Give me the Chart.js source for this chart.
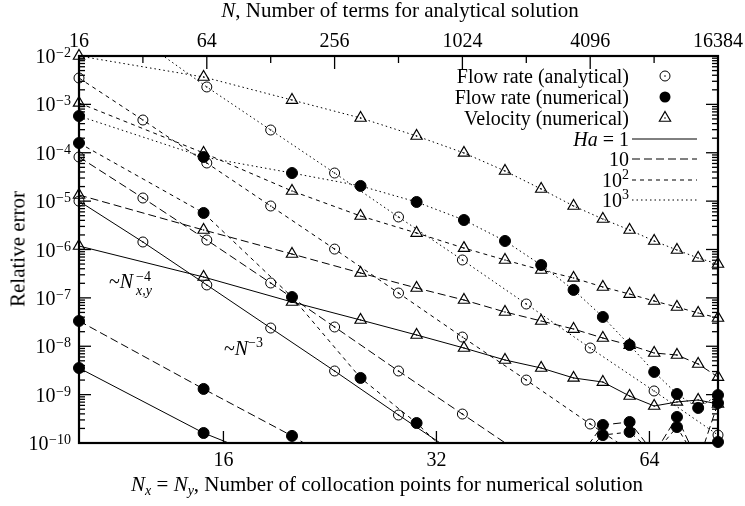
<!DOCTYPE html>
<html>
<head>
<meta charset="utf-8">
<script src="https://cdn.jsdelivr.net/npm/chart.js@4.4.0/dist/chart.umd.min.js"></script>
<style>
  html, body { margin: 0; padding: 0; background: #fff; }
  #wrap { position: relative; width: 745px; height: 506px; color: #000;
          font-family: 'Liberation Serif', 'Times New Roman', serif; }
  #grafica { position: absolute; left: 0; top: 0; }
  .t { position: absolute; white-space: nowrap; font-size: 20px; line-height: 20px; }
  .big { font-size: 21px; line-height: 21px; }
  .small { font-size: 14px; line-height: 14px; }
  .sub { font-size: 14px; line-height: 0; vertical-align: -4px; }
  .sup { font-size: 14px; line-height: 0; vertical-align: 8px; }
  .legend { right: 116px; text-align: right; }
</style>
</head>
<body>
<div id="wrap">
  <canvas id="grafica" width="745" height="506"></canvas>

  <!-- titulos de los ejes -->
  <div class="t big" style="left:400px; top:0px; transform:translateX(-50%);"><i>N</i>, Number of terms for analytical solution</div>
  <div class="t big" style="left:387px; top:474px; transform:translateX(-50%);"><i>N</i><span class="sub"><i>x</i></span> = <i>N</i><span class="sub"><i>y</i></span>, Number of collocation points for numerical solution</div>
  <div class="t big" style="left:18px; top:249px; transform:translate(-50%,-50%) rotate(-90deg);">Relative error</div>

  <!-- leyenda -->
  <div class="t legend" style="top:66px;">Flow rate (analytical)</div>
  <div class="t legend" style="top:87px;">Flow rate (numerical)</div>
  <div class="t legend" style="top:108px;">Velocity (numerical)</div>
  <div class="t legend" style="top:129px;"><i>Ha</i> = 1</div>
  <div class="t legend" style="top:149px;">10</div>
  <div class="t legend" style="top:170px;">10<span class="sup">2</span></div>
  <div class="t legend" style="top:190px;">10<span class="sup">3</span></div>

  <!-- pendientes -->
  <div class="t" style="left:109px; top:271px;">~<i>N</i></div>
  <div class="t small" style="left:136px; top:270px;">&minus;4</div>
  <div class="t small" style="left:136px; top:284px;"><i>x,y</i></div>
  <div class="t" style="left:224px; top:338px;">~<i>N</i></div>
  <div class="t small" style="left:248px; top:336px;">&minus;3</div>
</div>

<script>
const fuente = "'Liberation Serif', 'Times New Roman', serif";

// Eje superior: N, numero de terminos de la solucion analitica
const nTerms = [16, 32, 64, 128, 256, 512, 1024, 2048, 4096, 8192, 16384];
const nTermLabels = [16, 64, 256, 1024, 4096, 16384];

// Eje inferior: Nx = Ny, puntos de colocacion
const nColloc = [10, 15, 20, 25, 30, 35, 40, 45, 50, 55, 60, 65, 70, 75, 80];
const nCollocLabels = [16, 32, 64];

// Eje Y: decadas
const yDecades = [1e-2, 1e-3, 1e-4, 1e-5, 1e-6, 1e-7, 1e-8, 1e-9, 1e-10];

// Flow rate (analytical), contra N
const qAnaHa1    = [1.0e-5, 1.43e-6, 1.85e-7, 2.38e-8, 3.08e-9, 3.79e-10, 4.9e-11, null, null, null, null];
const qAnaHa10   = [8.17e-5, 1.16e-5, 1.57e-6, 2.03e-7, 2.50e-8, 3.08e-9, 3.97e-10, 5.1e-11, null, null, null];
const qAnaHa100  = [3.51e-3, 4.75e-4, 6.14e-5, 7.93e-6, 1.02e-6, 1.26e-7, 1.55e-8, 2.0e-9, 2.47e-10, 3.2e-11, null];
const qAnaHa1000 = [null, 2.0e-2, 2.29e-3, 2.95e-4, 3.81e-5, 4.70e-6, 6.07e-7, 7.47e-8, 9.2e-9, 1.19e-9, 1.46e-10];

// Flow rate (numerical), contra Nx
const qNumHa1    = [3.55e-9, 1.61e-10, 3e-11, null, null, null, null, null, null, null, null, null, null, null, null];
const qNumHa10   = [3.33e-8, 1.31e-9, 1.40e-10, 2e-11, null, null, null, null, 3.5e-11, 2.36e-10, 2.72e-10, 6e-11, 3.45e-10, 4e-11, 6.7e-10];
const qNumHa100  = [1.59e-4, 5.69e-6, 1.04e-7, 2.21e-9, 2.59e-10, 3e-11, null, null, 3.5e-11, 1.46e-10, 1.69e-10, 6e-11, 2.14e-10, 4e-11, 1.05e-10];
const qNumHa1000 = [5.75e-4, 8.17e-5, 3.81e-5, 2.06e-5, 9.6e-6, 4.07e-6, 1.50e-6, 4.78e-7, 1.46e-7, 4.03e-8, 1.06e-8, 2.94e-9, 1.03e-9, 5.3e-10, 9.8e-10];

// Velocity (numerical), contra Nx
const vNumHa1    = [1.18e-6, 2.70e-7, 8.22e-8, 3.49e-8, 1.71e-8, 9.20e-9, 5.20e-9, 3.55e-9, 2.21e-9, 1.82e-9, 9.37e-10, 5.82e-10, 7.05e-10, 7.75e-10, 6.40e-10];
const vNumHa10   = [1.34e-5, 2.53e-6, 8.07e-7, 3.27e-7, 1.60e-7, 9.04e-8, 5.11e-8, 3.33e-8, 2.27e-8, 1.48e-8, 1.06e-8, 7.25e-9, 6.59e-9, 4.30e-9, 2.31e-9];
const vNumHa100  = [1.07e-3, 9.9e-5, 1.62e-5, 4.93e-6, 2.19e-6, 1.07e-6, 6.07e-7, 3.77e-7, 2.58e-7, 1.68e-7, 1.20e-7, 8.61e-8, 6.47e-8, 4.87e-8, 3.84e-8];
const vNumHa1000 = [1.0e-2, 3.68e-3, 1.23e-3, 5.23e-4, 2.22e-4, 9.9e-5, 4.20e-5, 1.78e-5, 7.93e-6, 4.27e-6, 2.53e-6, 1.50e-6, 9.77e-7, 6.67e-7, 5.01e-7];

// Estilos de linea por Ha
const dashHa1 = [];
const dashHa10 = [8, 4];
const dashHa100 = [4, 4];
const dashHa1000 = [1.5, 3];

const openCircle = { style: 'circle', r: 5, bw: 1, fill: 'rgba(0,0,0,0)', dot: true };
const fullCircle = { style: 'circle', r: 5.5, bw: 1, fill: '#000', dot: false };
const triangle = { style: 'triangle', r: 6.5, bw: 1.2, fill: 'rgba(0,0,0,0)', dot: true };

const enRango = v => v !== null && v >= 1e-10 && v <= 1.001e-2;

// Crea los datasets de una serie: linea (recortada al area), marcas y punto central
function serie(xs, ys, eje, dash, punto) {
  const puntos = () => xs.map((x, i) => ({ x: x, y: ys[i] }));
  const out = [{
    data: puntos(), xAxisID: eje, showLine: true, borderColor: '#000', borderWidth: 1,
    borderDash: dash, pointRadius: 0, order: 2
  }, {
    data: puntos(), xAxisID: eje, showLine: false, clip: false, order: 1,
    pointStyle: punto.style, pointBorderColor: '#000',
    pointBorderWidth: punto.bw, pointBackgroundColor: punto.fill,
    pointRadius: ctx => (ctx.raw && enRango(ctx.raw.y)) ? punto.r : 0
  }];
  if (punto.dot) {
    out.push({
      data: puntos(), xAxisID: eje, showLine: false, clip: false, order: 0,
      pointStyle: 'circle', pointBorderWidth: 0, pointBackgroundColor: '#000',
      pointRadius: ctx => (ctx.raw && enRango(ctx.raw.y)) ? 0.8 : 0
    });
  }
  return out;
}

const datasets = [].concat(
  serie(nTerms, qAnaHa1, 'x2', dashHa1, openCircle),
  serie(nTerms, qAnaHa10, 'x2', dashHa10, openCircle),
  serie(nTerms, qAnaHa100, 'x2', dashHa100, openCircle),
  serie(nTerms, qAnaHa1000, 'x2', dashHa1000, openCircle),
  serie(nColloc, qNumHa1, 'x', dashHa1, fullCircle),
  serie(nColloc, qNumHa10, 'x', dashHa10, fullCircle),
  serie(nColloc, qNumHa100, 'x', dashHa100, fullCircle),
  serie(nColloc, qNumHa1000, 'x', dashHa1000, fullCircle),
  serie(nColloc, vNumHa1, 'x', dashHa1, triangle),
  serie(nColloc, vNumHa10, 'x', dashHa10, triangle),
  serie(nColloc, vNumHa100, 'x', dashHa100, triangle),
  serie(nColloc, vNumHa1000, 'x', dashHa1000, triangle)
);

// Marco, marcas de los ejes, etiquetas Y y muestras de la leyenda
const marcoPlugin = {
  id: 'marco',
  afterDraw(chart) {
    const { ctx, chartArea: a, scales } = chart;
    const seg = (x1, y1, x2, y2) => { ctx.beginPath(); ctx.moveTo(x1, y1); ctx.lineTo(x2, y2); ctx.stroke(); };
    ctx.save();
    ctx.strokeStyle = '#000';
    ctx.fillStyle = '#000';
    ctx.setLineDash([]);
    ctx.lineWidth = 1.3;

    // eje Y: decadas largas, 2..9 cortas, a ambos lados
    yDecades.forEach(d => {
      for (let m = 1; m <= 9; m++) {
        const v = d * m;
        if (v > 1.001e-2) continue;
        const y = scales.y.getPixelForValue(v);
        const len = m === 1 ? 12 : 6;
        seg(a.left, y, a.left + len, y);
        seg(a.right, y, a.right - len, y);
      }
    });
    // eje superior (N)
    nTerms.forEach(n => {
      const x = scales.x2.getPixelForValue(n);
      seg(x, a.top, x, a.top + (nTermLabels.includes(n) ? 13 : 7));
    });
    // eje inferior (Nx)
    nCollocLabels.forEach(n => {
      const x = scales.x.getPixelForValue(n);
      seg(x, a.bottom, x, a.bottom - 12);
    });

    ctx.lineWidth = 2.2;
    ctx.strokeRect(a.left, a.top, a.right - a.left, a.bottom - a.top);

    // etiquetas 10^-n
    ctx.textBaseline = 'alphabetic';
    yDecades.forEach(d => {
      const y = scales.y.getPixelForValue(d);
      const exp = '\u2212' + Math.round(-Math.log10(d));
      ctx.font = '14px ' + fuente;
      const w = ctx.measureText(exp).width;
      ctx.textAlign = 'left';
      ctx.fillText(exp, a.left - 8 - w, y + 1);
      ctx.font = '20px ' + fuente;
      ctx.textAlign = 'right';
      ctx.fillText('10', a.left - 8 - w - 0.5, y + 7);
    });

    // muestras de la leyenda
    const cx = a.right - 53;
    ctx.lineWidth = 1;
    ctx.beginPath(); ctx.arc(cx, 76, 5, 0, Math.PI * 2); ctx.stroke();
    ctx.beginPath(); ctx.arc(cx, 76, 0.8, 0, Math.PI * 2); ctx.fill();
    ctx.beginPath(); ctx.arc(cx, 97, 5.5, 0, Math.PI * 2); ctx.fill();
    ctx.lineWidth = 1.2;
    const r = 6.5;
    ctx.beginPath();
    ctx.moveTo(cx, 118 - r);
    ctx.lineTo(cx + r * 0.866, 118 + r / 2);
    ctx.lineTo(cx - r * 0.866, 118 + r / 2);
    ctx.closePath();
    ctx.stroke();
    ctx.beginPath(); ctx.arc(cx, 118, 0.8, 0, Math.PI * 2); ctx.fill();

    ctx.lineWidth = 1;
    [[dashHa1, 139], [dashHa10, 159], [dashHa100, 180], [dashHa1000, 200]].forEach(([dash, y]) => {
      ctx.setLineDash(dash);
      seg(a.right - 86, y, a.right - 21, y);
    });
    ctx.restore();
  }
};

const tickFont = { family: fuente, size: 20 };

new Chart(document.getElementById('grafica').getContext('2d'), {
  type: 'scatter',
  data: { datasets: datasets },
  options: {
    responsive: false,
    animation: false,
    layout: { padding: { left: 0, right: 26, top: 0, bottom: 0 } },
    plugins: { legend: { display: false }, tooltip: { enabled: false } },
    scales: {
      x: {
        type: 'logarithmic', position: 'bottom', min: 10, max: 80,
        afterBuildTicks: s => { s.ticks = nCollocLabels.map(v => ({ value: v })); },
        afterFit: s => { s.height = 63; },
        ticks: { callback: v => String(v), font: tickFont, color: '#000', padding: 6, maxRotation: 0, autoSkip: false },
        grid: { display: false, drawTicks: false },
        border: { display: false }
      },
      x2: {
        type: 'logarithmic', axis: 'x', position: 'top', min: 16, max: 16384,
        afterBuildTicks: s => { s.ticks = nTermLabels.map(v => ({ value: v })); },
        afterFit: s => { s.height = 56; },
        ticks: { callback: v => String(v), font: tickFont, color: '#000', padding: 2, maxRotation: 0, autoSkip: false },
        grid: { display: false, drawTicks: false },
        border: { display: false }
      },
      y: {
        type: 'logarithmic', min: 1e-10, max: 1e-2,
        afterFit: s => { s.width = 79; },
        ticks: { display: false },
        grid: { display: false, drawTicks: false },
        border: { display: false }
      }
    }
  },
  plugins: [marcoPlugin]
});
</script>
</body>
</html>
